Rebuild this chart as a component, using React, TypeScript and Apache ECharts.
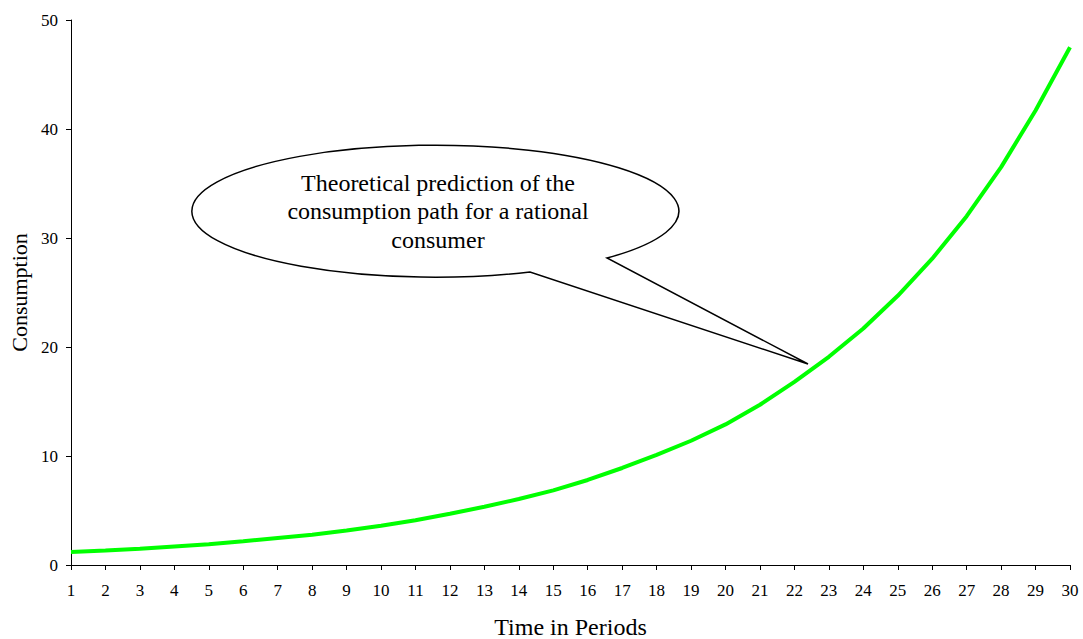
import React, { useEffect, useRef } from "react";
import * as echarts from "echarts";

const periods: string[] = Array.from({ length: 30 }, (_, i) => String(i + 1));
const consumption: number[] = [
  1.2, 1.32, 1.48, 1.7, 1.9, 2.18, 2.48, 2.78, 3.17, 3.6,
  4.1, 4.7, 5.35, 6.05, 6.85, 7.8, 8.9, 10.1, 11.4, 12.9,
  14.7, 16.8, 19.1, 21.7, 24.7, 28.1, 32.0, 36.5, 41.7, 47.5,
];
const yTicks = { min: 0, max: 50, interval: 10 };
const calloutLines: string[] = [
  "Theoretical prediction of the",
  "consumption path for a rational",
  "consumer",
];

let registered = false;
function registerBubble() {
  if (registered) return;
  registered = true;
  const d = "M 607 258 A 243.5 66 0 1 0 530 272 L 808 364 Z";
  echarts.graphic.registerShape("bubble", (echarts.graphic as any).extendPath(d, {}));
}

export default function App() {
  const ref = useRef<HTMLDivElement>(null);
  useEffect(() => {
    if (!ref.current) return;
    registerBubble();
    const chart = echarts.init(ref.current, undefined, { renderer: "svg" });
    const font = "'Liberation Serif', 'Times New Roman', serif";
    chart.setOption({
      animation: false,
      backgroundColor: "#ffffff",
      textStyle: { fontFamily: font },
      grid: {
        left: 71,
        right: 13,
        top: 20,
        bottom: 74,
        containLabel: false,
        outerBoundsMode: "none",
      },
      xAxis: {
        type: "category",
        data: periods,
        boundaryGap: false,
        name: "Time in Periods",
        nameLocation: "middle",
        nameGap: 50,
        nameTextStyle: { fontFamily: font, fontSize: 24, color: "#000" },
        axisLine: { lineStyle: { color: "#000", width: 1 } },
        axisTick: { show: true, length: 5, alignWithLabel: true, lineStyle: { color: "#000" } },
        axisLabel: { fontFamily: font, fontSize: 17, color: "#000", margin: 17, interval: 0 },
        splitLine: { show: false },
      },
      yAxis: {
        type: "value",
        min: yTicks.min,
        max: yTicks.max,
        interval: yTicks.interval,
        name: "Consumption",
        nameLocation: "middle",
        nameGap: 40,
        nameTextStyle: { fontFamily: font, fontSize: 22, color: "#000" },
        axisLine: { show: true, lineStyle: { color: "#000", width: 1 } },
        axisTick: { show: true, length: 5, lineStyle: { color: "#000" } },
        axisLabel: { fontFamily: font, fontSize: 17, color: "#000", margin: 13 },
        splitLine: { show: false },
      },
      series: [
        {
          type: "line",
          data: consumption,
          smooth: false,
          symbol: "none",
          lineStyle: { color: "#00ff00", width: 4 },
          z: 2,
        },
      ],
      graphic: [
        {
          type: "bubble",
          x: 0,
          y: 0,
          z: 10,
          style: { fill: "#ffffff", stroke: "#000000", lineWidth: 1.5 },
        },
        {
          type: "text",
          x: 438,
          y: 211,
          z: 11,
          style: {
            text: calloutLines.join("\n"),
            fontFamily: font,
            fontSize: 24,
            lineHeight: 28.5,
            fill: "#000",
            align: "center",
            verticalAlign: "middle",
          },
        },
      ],
    });
    return () => chart.dispose();
  }, []);
  return (
    <div
      ref={ref}
      style={{ position: "fixed", left: 0, top: 0, width: 1083, height: 639 }}
    />
  );
}
